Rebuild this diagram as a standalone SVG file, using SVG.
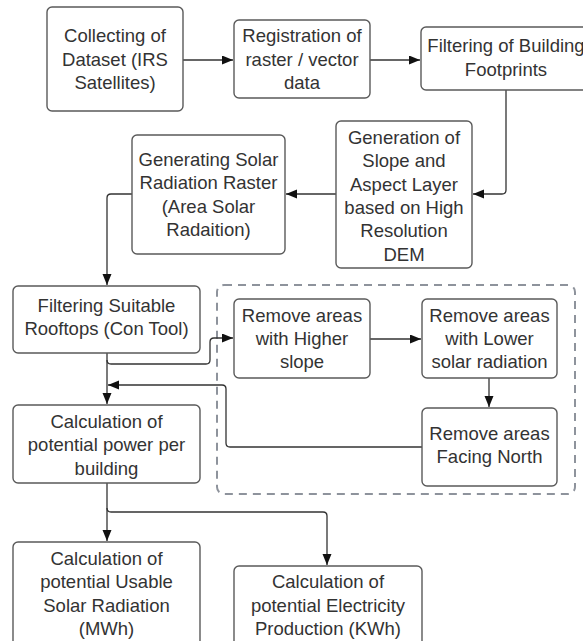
<svg xmlns="http://www.w3.org/2000/svg" width="583" height="641" viewBox="0 0 583 641">
<defs>
<style>
.box{fill:#fff;stroke:#5a5a5a;stroke-width:1.4}
.t{font-family:"Liberation Sans",Arial,sans-serif;font-size:18.5px;fill:#333;text-anchor:middle}
.c{fill:none;stroke:#333;stroke-width:1.3}
.grp{fill:none;stroke:#8e939c;stroke-width:2;stroke-dasharray:8 6}
</style>
<marker id="ah" markerUnits="userSpaceOnUse" markerWidth="12" markerHeight="10" refX="11" refY="4.5" orient="auto">
<path d="M0,0 L11,4.5 L0,9 z" fill="#111"/>
</marker>
</defs>
<rect width="583" height="641" fill="#fff"/>
<rect id="group-filter" class="grp" x="217" y="285" width="358" height="209" rx="7"/>
<g id="connectors">
<path class="c" d="M183,60 H233" marker-end="url(#ah)"/>
<path class="c" d="M370,60 H420" marker-end="url(#ah)"/>
<path class="c" d="M506,90 V190 Q506,194 502,194 H473" marker-end="url(#ah)"/>
<path class="c" d="M336,194 H286" marker-end="url(#ah)"/>
<path class="c" d="M132,194 H111 Q107,194 107,198 V285" marker-end="url(#ah)"/>
<path class="c" d="M107,353 V404" marker-end="url(#ah)"/>
<path class="c" d="M107,360 Q107,364 111,364 H206 Q210,364 210,360 V342 Q210,338 214,338 H233" marker-end="url(#ah)"/>
<path class="c" d="M370,339 H421" marker-end="url(#ah)"/>
<path class="c" d="M489,378 V407" marker-end="url(#ah)"/>
<path class="c" d="M422,447 H230 Q226,447 226,443 V389 Q226,385 222,385 H108" marker-end="url(#ah)"/>
<path class="c" d="M107,483 V541" marker-end="url(#ah)"/>
<path class="c" d="M107,508 Q107,512 111,512 H323 Q327,512 327,516 V565" marker-end="url(#ah)"/>
</g>
<g id="n1"><rect class="box" x="47" y="7" width="136" height="104" rx="5"/>
<text class="t" x="115" y="42">Collecting of</text><text class="t" x="115" y="65.5">Dataset (IRS</text><text class="t" x="115" y="89">Satellites)</text></g>
<g id="n2"><rect class="box" x="234" y="20" width="136" height="78" rx="5"/>
<text class="t" x="302" y="42">Registration of</text><text class="t" x="302" y="65.5">raster / vector</text><text class="t" x="302" y="89">data</text></g>
<g id="n3"><rect class="box" x="421" y="27" width="170" height="63" rx="5"/>
<text class="t" x="506" y="52">Filtering of Building</text><text class="t" x="506" y="75.5">Footprints</text></g>
<g id="n4"><rect class="box" x="336" y="121" width="136" height="147" rx="5"/>
<text class="t" x="404" y="144">Generation of</text><text class="t" x="404" y="167.3">Slope and</text><text class="t" x="404" y="190.6">Aspect Layer</text><text class="t" x="404" y="213.9">based on High</text><text class="t" x="404" y="237.2">Resolution</text><text class="t" x="404" y="260.5">DEM</text></g>
<g id="n5"><rect class="box" x="132" y="135" width="153" height="119" rx="5"/>
<text class="t" x="208.5" y="166">Generating Solar</text><text class="t" x="208.5" y="189.3">Radiation Raster</text><text class="t" x="208.5" y="212.6">(Area Solar</text><text class="t" x="208.5" y="235.9">Radaition)</text></g>
<g id="n6"><rect class="box" x="13" y="286" width="187" height="67" rx="5"/>
<text class="t" x="106.5" y="311.5">Filtering Suitable</text><text class="t" x="106.5" y="334.8">Rooftops (Con Tool)</text></g>
<g id="n7"><rect class="box" x="234" y="299" width="136" height="79" rx="5"/>
<text class="t" x="302" y="321.7">Remove areas</text><text class="t" x="302" y="345">with Higher</text><text class="t" x="302" y="368.3">slope</text></g>
<g id="n8"><rect class="box" x="422" y="299" width="135" height="79" rx="5"/>
<text class="t" x="489.5" y="321.7">Remove areas</text><text class="t" x="489.5" y="345">with Lower</text><text class="t" x="489.5" y="368.3">solar radiation</text></g>
<g id="n9"><rect class="box" x="422" y="408" width="135" height="78" rx="5"/>
<text class="t" x="489.5" y="439.8">Remove areas</text><text class="t" x="489.5" y="463.1">Facing North</text></g>
<g id="n10"><rect class="box" x="13" y="405" width="187" height="78" rx="5"/>
<text class="t" x="106.5" y="428">Calculation of</text><text class="t" x="106.5" y="451.3">potential power per</text><text class="t" x="106.5" y="474.6">building</text></g>
<g id="n11"><rect class="box" x="13" y="542" width="187" height="118" rx="5"/>
<text class="t" x="106.5" y="565">Calculation of</text><text class="t" x="106.5" y="588.3">potential Usable</text><text class="t" x="106.5" y="611.6">Solar Radiation</text><text class="t" x="106.5" y="634.9">(MWh)</text></g>
<g id="n12"><rect class="box" x="234" y="566" width="188" height="94" rx="5"/>
<text class="t" x="328" y="588.3">Calculation of</text><text class="t" x="328" y="611.6">potential Electricity</text><text class="t" x="328" y="634.9">Production (KWh)</text></g>
</svg>
